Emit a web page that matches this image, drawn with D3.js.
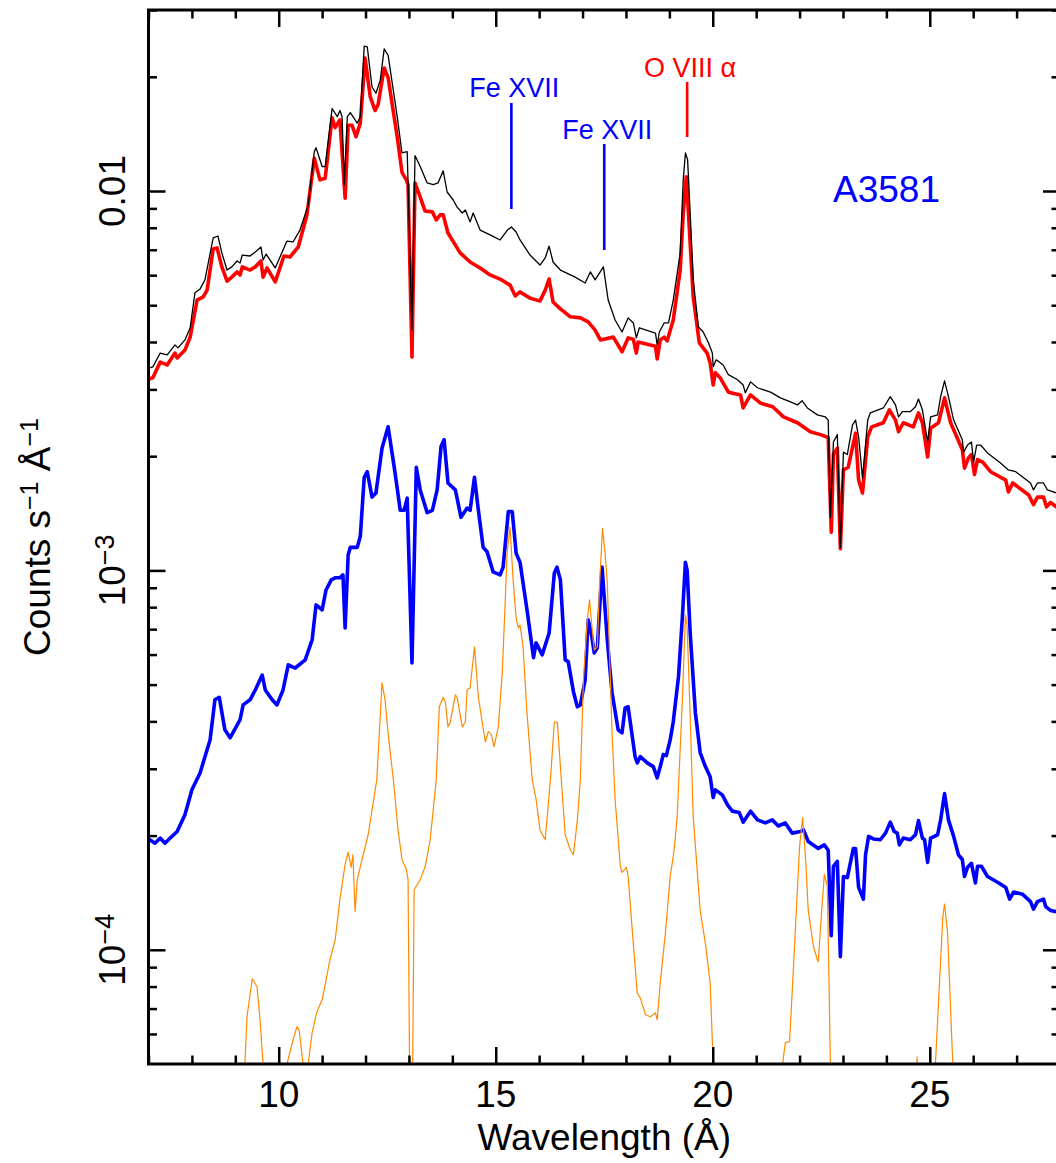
<!DOCTYPE html>
<html>
<head>
<meta charset="utf-8">
<script src="https://cdn.jsdelivr.net/npm/d3@7"></script>
<style>
body{margin:0;background:#fff}
svg{display:block}
text{font-family:"Liberation Sans",Arial,Helvetica,sans-serif}
</style>
</head>
<body>
<svg id="chart" width="1056" height="1163"></svg>
<script>
// wavelength (A), counts s^-1 A^-1
const totalModel=[[7.0,3.42e-3],[7.03,3.42e-3],[7.10,3.44e-3],[7.27,3.74e-3],[7.43,3.70e-3],[7.61,3.93e-3],[7.68,3.86e-3],[7.84,4.05e-3],[7.96,4.36e-3],[8.07,5.39e-3],[8.19,5.52e-3],[8.30,5.83e-3],[8.49,7.52e-3],[8.60,7.61e-3],[8.69,6.87e-3],[8.81,6.19e-3],[8.92,6.31e-3],[9.04,6.54e-3],[9.11,6.46e-3],[9.16,6.78e-3],[9.34,6.74e-3],[9.46,6.91e-3],[9.59,7.12e-3],[9.64,6.58e-3],[9.71,6.82e-3],[9.92,6.27e-3],[10.19,7.38e-3],[10.33,7.34e-3],[10.49,7.89e-3],[10.68,9.19e-3],[10.82,1.27e-2],[10.86,1.30e-2],[11.00,1.16e-2],[11.07,1.16e-2],[11.23,1.65e-2],[11.35,1.57e-2],[11.41,1.63e-2],[11.46,1.57e-2],[11.51,1.04e-2],[11.58,1.57e-2],[11.65,1.61e-2],[11.81,1.51e-2],[11.88,1.57e-2],[11.97,2.41e-2],[12.04,2.40e-2],[12.15,1.88e-2],[12.24,1.81e-2],[12.34,1.96e-2],[12.43,2.37e-2],[12.52,2.28e-2],[12.73,1.57e-2],[12.84,1.26e-2],[12.96,1.27e-2],[12.98,1.05e-2],[13.07,4.30e-3],[13.14,1.24e-2],[13.26,1.16e-2],[13.42,1.05e-2],[13.56,1.04e-2],[13.67,1.05e-2],[13.79,1.13e-2],[13.88,9.94e-3],[14.02,9.47e-3],[14.11,9.07e-3],[14.23,8.75e-3],[14.30,8.91e-3],[14.41,8.29e-3],[14.48,8.75e-3],[14.64,7.89e-3],[14.87,7.66e-3],[15.10,7.43e-3],[15.27,7.89e-3],[15.36,8.04e-3],[15.47,7.80e-3],[15.56,7.43e-3],[15.79,6.78e-3],[16.02,6.38e-3],[16.14,6.66e-3],[16.23,7.16e-3],[16.32,6.50e-3],[16.49,6.19e-3],[16.83,5.93e-3],[17.06,5.72e-3],[17.18,6.12e-3],[17.29,5.83e-3],[17.48,6.31e-3],[17.59,5.16e-3],[17.75,4.57e-3],[17.91,4.25e-3],[18.05,4.63e-3],[18.17,4.49e-3],[18.24,4.10e-3],[18.31,4.36e-3],[18.68,4.22e-3],[18.72,3.93e-3],[18.77,4.25e-3],[18.88,4.49e-3],[18.98,4.49e-3],[19.09,5.16e-3],[19.25,6.87e-3],[19.32,1.07e-2],[19.37,1.26e-2],[19.42,1.21e-2],[19.48,8.75e-3],[19.55,5.83e-3],[19.67,4.38e-3],[19.78,4.25e-3],[19.90,3.98e-3],[19.99,3.74e-3],[20.01,3.44e-3],[20.08,3.59e-3],[20.24,3.48e-3],[20.36,3.28e-3],[20.57,3.18e-3],[20.70,3.08e-3],[20.75,2.94e-3],[20.87,3.14e-3],[21.03,3.03e-3],[21.33,2.95e-3],[21.56,2.85e-3],[21.79,2.78e-3],[21.95,2.73e-3],[22.06,2.80e-3],[22.18,2.68e-3],[22.41,2.57e-3],[22.59,2.54e-3],[22.66,2.49e-3],[22.71,1.38e-3],[22.78,2.18e-3],[22.87,2.28e-3],[22.94,1.15e-3],[23.01,2.05e-3],[23.10,2.02e-3],[23.22,2.42e-3],[23.29,2.49e-3],[23.36,2.25e-3],[23.45,1.75e-3],[23.57,2.49e-3],[23.63,2.60e-3],[23.93,2.68e-3],[24.09,2.87e-3],[24.21,2.73e-3],[24.28,2.54e-3],[24.37,2.62e-3],[24.55,2.62e-3],[24.67,2.70e-3],[24.74,2.83e-3],[24.83,2.65e-3],[24.95,2.18e-3],[25.02,2.54e-3],[25.18,2.57e-3],[25.25,2.87e-3],[25.34,3.16e-3],[25.43,2.87e-3],[25.55,2.49e-3],[25.75,2.21e-3],[25.78,2.05e-3],[25.87,2.14e-3],[25.96,2.18e-3],[26.01,1.93e-3],[26.08,2.14e-3],[26.17,2.14e-3],[26.33,2.04e-3],[26.63,1.92e-3],[26.81,1.84e-3],[26.98,1.82e-3],[27.32,1.70e-3],[27.39,1.63e-3],[27.48,1.70e-3],[27.62,1.70e-3],[27.71,1.63e-3],[27.92,1.60e-3],[28.0,1.60e-3]]

const redModel=[[7.0,3.20e-3],[7.03,3.20e-3],[7.10,3.22e-3],[7.27,3.54e-3],[7.43,3.48e-3],[7.61,3.74e-3],[7.66,3.63e-3],[7.84,3.81e-3],[7.96,4.12e-3],[8.12,5.16e-3],[8.26,5.26e-3],[8.35,5.48e-3],[8.49,7.03e-3],[8.58,7.08e-3],[8.69,6.31e-3],[8.81,5.79e-3],[8.92,5.93e-3],[9.04,6.12e-3],[9.11,6.01e-3],[9.16,6.31e-3],[9.34,6.19e-3],[9.46,6.31e-3],[9.59,6.54e-3],[9.64,5.93e-3],[9.73,6.27e-3],[9.92,5.76e-3],[10.12,6.74e-3],[10.26,6.70e-3],[10.45,7.12e-3],[10.65,8.65e-3],[10.82,1.22e-2],[10.95,1.07e-2],[11.07,1.08e-2],[11.23,1.56e-2],[11.30,1.47e-2],[11.41,1.54e-2],[11.53,9.58e-3],[11.60,1.49e-2],[11.69,1.49e-2],[11.78,1.39e-2],[11.88,1.51e-2],[11.99,2.24e-2],[12.11,1.77e-2],[12.22,1.63e-2],[12.29,1.69e-2],[12.43,2.11e-2],[12.52,1.99e-2],[12.73,1.39e-2],[12.84,1.12e-2],[12.94,1.07e-2],[12.98,1.04e-2],[13.07,3.65e-3],[13.14,1.05e-2],[13.26,9.64e-3],[13.37,8.86e-3],[13.54,8.81e-3],[13.63,8.39e-3],[13.72,8.65e-3],[13.79,8.65e-3],[13.90,7.75e-3],[14.18,6.87e-3],[14.41,6.50e-3],[14.64,6.27e-3],[14.87,6.01e-3],[15.10,5.86e-3],[15.33,5.65e-3],[15.45,5.29e-3],[15.56,5.42e-3],[15.79,5.22e-3],[16.02,5.13e-3],[16.14,5.48e-3],[16.23,5.86e-3],[16.32,5.10e-3],[16.49,4.89e-3],[16.72,4.66e-3],[16.95,4.63e-3],[17.13,4.52e-3],[17.29,4.30e-3],[17.41,4.05e-3],[17.71,4.12e-3],[17.91,3.77e-3],[18.05,4.10e-3],[18.17,4.07e-3],[18.24,3.74e-3],[18.28,4.00e-3],[18.68,3.90e-3],[18.72,3.61e-3],[18.79,4.05e-3],[18.88,4.12e-3],[18.95,4.03e-3],[19.09,4.57e-3],[19.25,6.19e-3],[19.32,8.75e-3],[19.39,1.09e-2],[19.44,8.75e-3],[19.55,5.26e-3],[19.69,3.98e-3],[19.87,3.74e-3],[19.94,3.52e-3],[20.01,3.08e-3],[20.06,3.32e-3],[20.17,3.22e-3],[20.36,2.95e-3],[20.64,2.90e-3],[20.70,2.68e-3],[20.87,2.90e-3],[21.10,2.76e-3],[21.38,2.70e-3],[21.63,2.54e-3],[21.95,2.45e-3],[22.25,2.32e-3],[22.48,2.28e-3],[22.66,2.24e-3],[22.73,1.26e-3],[22.78,2.02e-3],[22.87,2.10e-3],[22.94,1.14e-3],[23.01,1.84e-3],[23.12,1.87e-3],[23.29,2.30e-3],[23.36,1.73e-3],[23.45,1.60e-3],[23.57,2.25e-3],[23.66,2.39e-3],[23.93,2.45e-3],[24.07,2.65e-3],[24.21,2.49e-3],[24.28,2.32e-3],[24.39,2.45e-3],[24.62,2.39e-3],[24.74,2.60e-3],[24.83,2.45e-3],[24.95,1.99e-3],[25.02,2.37e-3],[25.20,2.45e-3],[25.34,2.85e-3],[25.48,2.45e-3],[25.75,2.08e-3],[25.80,1.86e-3],[25.89,1.98e-3],[25.96,2.02e-3],[26.03,1.79e-3],[26.10,1.96e-3],[26.22,1.93e-3],[26.40,1.82e-3],[26.75,1.73e-3],[26.81,1.61e-3],[26.91,1.70e-3],[27.28,1.58e-3],[27.39,1.49e-3],[27.48,1.56e-3],[27.62,1.56e-3],[27.69,1.47e-3],[27.78,1.51e-3],[27.92,1.47e-3],[28.0,1.47e-3]]

const blueModel=[[7.0,1.95e-4],[7.03,1.95e-4],[7.15,1.91e-4],[7.27,1.97e-4],[7.38,1.91e-4],[7.50,1.97e-4],[7.66,2.05e-4],[7.84,2.27e-4],[8.00,2.64e-4],[8.19,2.93e-4],[8.42,3.58e-4],[8.53,4.56e-4],[8.63,4.63e-4],[8.76,3.80e-4],[8.88,3.62e-4],[9.11,4.04e-4],[9.18,4.42e-4],[9.34,4.56e-4],[9.46,4.84e-4],[9.62,5.30e-4],[9.69,4.84e-4],[9.85,4.56e-4],[9.96,4.42e-4],[10.10,4.84e-4],[10.22,5.64e-4],[10.38,5.53e-4],[10.61,5.81e-4],[10.77,6.56e-4],[10.86,8.11e-4],[11.00,7.87e-4],[11.09,8.88e-4],[11.21,9.44e-4],[11.30,9.56e-4],[11.41,9.56e-4],[11.48,9.73e-4],[11.53,7.05e-4],[11.60,1.10e-3],[11.65,1.15e-3],[11.81,1.15e-3],[11.88,1.23e-3],[11.97,1.76e-3],[12.04,1.82e-3],[12.15,1.56e-3],[12.24,1.60e-3],[12.38,2.10e-3],[12.52,2.39e-3],[12.68,1.81e-3],[12.80,1.44e-3],[12.89,1.44e-3],[12.96,1.55e-3],[13.07,5.70e-4],[13.17,1.87e-3],[13.26,1.63e-3],[13.42,1.42e-3],[13.54,1.44e-3],[13.65,1.63e-3],[13.74,2.12e-3],[13.81,2.21e-3],[13.90,1.70e-3],[14.07,1.63e-3],[14.20,1.38e-3],[14.34,1.46e-3],[14.41,1.44e-3],[14.51,1.76e-3],[14.60,1.44e-3],[14.71,1.15e-3],[14.80,1.12e-3],[14.94,9.91e-4],[15.10,9.73e-4],[15.17,1.02e-3],[15.29,1.43e-3],[15.38,1.43e-3],[15.47,1.11e-3],[15.56,1.05e-3],[15.73,7.73e-4],[15.87,5.89e-4],[15.93,6.44e-4],[16.07,5.99e-4],[16.23,6.84e-4],[16.35,9.85e-4],[16.41,1.02e-3],[16.49,9.44e-4],[16.60,5.81e-4],[16.67,5.75e-4],[16.79,4.79e-4],[16.88,4.37e-4],[16.95,4.42e-4],[17.06,5.15e-4],[17.13,7.41e-4],[17.20,6.84e-4],[17.27,6.06e-4],[17.34,6.25e-4],[17.45,1.02e-3],[17.57,6.56e-4],[17.68,4.76e-4],[17.82,3.80e-4],[17.91,3.73e-4],[17.98,4.34e-4],[18.05,4.37e-4],[18.21,3.23e-4],[18.26,3.11e-4],[18.33,3.23e-4],[18.49,3.11e-4],[18.63,3.04e-4],[18.72,2.84e-4],[18.79,3.04e-4],[18.86,3.27e-4],[18.93,3.25e-4],[19.02,3.58e-4],[19.09,3.99e-4],[19.21,5.24e-4],[19.30,7.54e-4],[19.37,1.05e-3],[19.41,1.00e-3],[19.48,6.84e-4],[19.60,4.21e-4],[19.71,3.31e-4],[19.83,3.04e-4],[19.94,2.86e-4],[20.01,2.52e-4],[20.06,2.64e-4],[20.22,2.56e-4],[20.34,2.41e-4],[20.45,2.32e-4],[20.61,2.30e-4],[20.70,2.17e-4],[20.87,2.32e-4],[21.03,2.20e-4],[21.21,2.16e-4],[21.37,2.20e-4],[21.51,2.12e-4],[21.67,2.16e-4],[21.83,2.03e-4],[22.02,2.05e-4],[22.09,2.07e-4],[22.20,1.93e-4],[22.43,1.85e-4],[22.57,1.89e-4],[22.66,1.83e-4],[22.73,1.09e-4],[22.78,1.66e-4],[22.87,1.71e-4],[22.94,9.59e-5],[23.01,1.56e-4],[23.10,1.55e-4],[23.24,1.85e-4],[23.29,1.85e-4],[23.36,1.46e-4],[23.47,1.36e-4],[23.52,1.78e-4],[23.59,1.99e-4],[23.70,1.96e-4],[23.86,1.95e-4],[23.98,2.03e-4],[24.09,2.17e-4],[24.18,2.05e-4],[24.25,2.03e-4],[24.30,1.89e-4],[24.39,1.97e-4],[24.55,1.95e-4],[24.67,2.01e-4],[24.74,2.19e-4],[24.83,1.97e-4],[24.88,1.95e-4],[24.95,1.70e-4],[25.02,1.97e-4],[25.18,2.01e-4],[25.25,2.20e-4],[25.34,2.58e-4],[25.43,2.20e-4],[25.55,1.99e-4],[25.66,1.78e-4],[25.75,1.73e-4],[25.80,1.56e-4],[25.87,1.65e-4],[25.96,1.69e-4],[26.05,1.50e-4],[26.10,1.66e-4],[26.19,1.66e-4],[26.33,1.56e-4],[26.59,1.50e-4],[26.75,1.46e-4],[26.84,1.36e-4],[26.93,1.42e-4],[27.14,1.40e-4],[27.32,1.34e-4],[27.39,1.28e-4],[27.48,1.34e-4],[27.62,1.36e-4],[27.67,1.30e-4],[27.78,1.27e-4],[27.92,1.26e-4],[28.0,1.26e-4]]

const orangeModel=[[7.0,3e-5],[9.15,3e-5],[9.22,5.0e-5],[9.27,6.66e-5],[9.39,8.39e-5],[9.50,7.99e-5],[9.57,6.54e-5],[9.64,5.0e-5],[9.70,3e-5],[10.12,3e-5],[10.19,5.0e-5],[10.33,5.79e-5],[10.42,6.27e-5],[10.47,6.15e-5],[10.56,5.0e-5],[10.62,4.0e-5],[10.68,5.0e-5],[10.77,6.05e-5],[10.88,6.87e-5],[11.00,7.38e-5],[11.07,8.09e-5],[11.18,9.41e-5],[11.30,1.06e-4],[11.41,1.36e-4],[11.53,1.68e-4],[11.60,1.81e-4],[11.67,1.65e-4],[11.71,1.78e-4],[11.76,1.26e-4],[11.81,1.53e-4],[11.92,1.73e-4],[12.06,2.01e-4],[12.17,2.41e-4],[12.26,2.81e-4],[12.38,5.05e-4],[12.45,4.56e-4],[12.52,3.73e-4],[12.64,2.81e-4],[12.75,2.07e-4],[12.84,1.73e-4],[12.94,1.63e-4],[12.98,1.53e-4],[13.03,3e-5],[13.07,3e-5],[13.12,1.44e-4],[13.26,1.53e-4],[13.37,1.65e-4],[13.49,1.95e-4],[13.63,2.81e-4],[13.70,4.37e-4],[13.79,4.63e-4],[13.84,4.49e-4],[13.90,3.87e-4],[13.95,3.97e-4],[14.07,4.70e-4],[14.11,4.63e-4],[14.23,3.87e-4],[14.30,3.99e-4],[14.34,4.84e-4],[14.41,4.90e-4],[14.51,6.29e-4],[14.60,4.63e-4],[14.69,3.97e-4],[14.76,3.53e-4],[14.83,3.76e-4],[14.90,3.69e-4],[14.96,3.43e-4],[15.06,3.87e-4],[15.15,5.37e-4],[15.22,8.36e-4],[15.26,1.11e-3],[15.33,1.30e-3],[15.40,9.44e-4],[15.47,7.49e-4],[15.52,7.05e-4],[15.56,7.18e-4],[15.63,6.29e-4],[15.72,4.21e-4],[15.84,2.81e-4],[15.93,2.49e-4],[16.02,2.07e-4],[16.14,1.95e-4],[16.26,2.81e-4],[16.35,3.99e-4],[16.42,3.97e-4],[16.51,2.81e-4],[16.60,2.01e-4],[16.72,1.83e-4],[16.79,1.78e-4],[16.88,2.20e-4],[16.95,2.81e-4],[17.02,5.15e-4],[17.11,7.41e-4],[17.16,8.36e-4],[17.23,6.84e-4],[17.27,6.17e-4],[17.34,6.29e-4],[17.39,9.05e-4],[17.46,1.29e-3],[17.52,1.11e-3],[17.57,9.27e-4],[17.68,3.73e-4],[17.75,2.49e-4],[17.87,1.66e-4],[17.91,1.60e-4],[18.01,1.65e-4],[18.05,1.56e-4],[18.15,1.11e-4],[18.26,7.70e-5],[18.33,7.47e-5],[18.45,6.74e-5],[18.56,6.66e-5],[18.68,6.82e-5],[18.72,6.54e-5],[18.79,8.19e-5],[18.91,1.11e-4],[19.02,1.56e-4],[19.11,1.83e-4],[19.18,2.24e-4],[19.30,4.56e-4],[19.37,7.63e-4],[19.41,7.10e-4],[19.48,4.11e-4],[19.55,2.24e-4],[19.71,1.27e-4],[19.83,1.04e-4],[19.94,8.19e-5],[20.01,5.0e-5],[20.06,3e-5],[21.56,3e-5],[21.61,5.0e-5],[21.67,5.69e-5],[21.77,5.73e-5],[21.86,9.02e-5],[22.00,1.87e-4],[22.07,2.23e-4],[22.14,1.73e-4],[22.20,1.27e-4],[22.32,1.02e-4],[22.41,9.41e-5],[22.43,9.30e-5],[22.50,1.22e-4],[22.57,1.58e-4],[22.64,1.47e-4],[22.71,5.0e-5],[22.75,3e-5],[24.62,3e-5],[24.71,5.22e-5],[24.76,3e-5],[25.11,3e-5],[25.13,5.0e-5],[25.30,1.22e-4],[25.34,1.32e-4],[25.41,1.11e-4],[25.53,5.0e-5],[25.57,3e-5],[28.0,3e-5]]

const xMajorTicks=[10,15,20,25]
const xMinorTicks=[7,8,9,11,12,13,14,16,17,18,19,21,22,23,24,26,27,28]
const yMajorTicks=[1e-4,1e-3,1e-2]
const yMinorTicks=[6e-5,7e-5,8e-5,9e-5,2e-4,3e-4,4e-4,5e-4,6e-4,7e-4,8e-4,9e-4,2e-3,3e-3,4e-3,5e-3,6e-3,7e-3,8e-3,9e-3,2e-2,3e-2]
const yTickLabels=[{v:1e-2,base:'0.01',sup:''},{v:1e-3,base:'10',sup:'\u22123'},{v:1e-4,base:'10',sup:'\u22124'}]
const lineLabels=[{wave:15.36,text:'Fe XVII',color:'#0000ff',textY:97,y1:103,y2:209},
  {wave:17.50,text:'Fe XVII',color:'#0000ff',textY:139,y1:144,y2:250},
  {wave:19.41,text:'O VIII \u03b1',color:'#ff0000',textY:77,y1:82,y2:137}]

const plotLeft=148.5,plotRight=1060,plotTop=10,plotBottom=1064
const svg=d3.select('#chart')

const x=d3.scaleLinear().domain([7,28]).range([plotLeft,plotRight])
const y=d3.scaleLog().domain([5e-5,0.03]).range([plotBottom,plotTop])

svg.append('defs').append('clipPath').attr('id','plotclip')
  .append('rect').attr('x',plotLeft).attr('y',plotTop)
  .attr('width',plotRight-plotLeft).attr('height',plotBottom-plotTop)

const line=d3.line().x(d=>x(d[0])).y(d=>y(d[1]))
const plot=svg.append('g').attr('clip-path','url(#plotclip)')

function drawSeries(data,color,width){
  plot.append('path')
    .datum(data)
    .attr('fill','none')
    .attr('stroke',color)
    .attr('stroke-width',width)
    .attr('stroke-linejoin','round')
    .attr('d',line)
}
drawSeries(blueModel,'#0000ff',3.6)
drawSeries(orangeModel,'#ff8a00',1.2)
drawSeries(redModel,'#ff0000',3.6)
drawSeries(totalModel,'#000000',1.3)

// ticks on all four sides, pointing inward
function addAxis(axisFn,scale,vals,size,transform){
  const g=svg.append('g').attr('transform',transform)
    .call(axisFn(scale).tickValues(vals).tickSizeInner(-size).tickSizeOuter(0).tickFormat(''))
  g.select('.domain').remove()
  g.selectAll('.tick line').attr('stroke','#000').attr('stroke-width',2.5)
}
addAxis(d3.axisBottom,x,xMajorTicks,17,`translate(0,${plotBottom})`)
addAxis(d3.axisBottom,x,xMinorTicks,8.5,`translate(0,${plotBottom})`)
addAxis(d3.axisTop,x,xMajorTicks,17,`translate(0,${plotTop})`)
addAxis(d3.axisTop,x,xMinorTicks,8.5,`translate(0,${plotTop})`)
addAxis(d3.axisLeft,y,yMajorTicks,17,`translate(${plotLeft},0)`)
addAxis(d3.axisLeft,y,yMinorTicks,8.5,`translate(${plotLeft},0)`)
addAxis(d3.axisRight,y,yMajorTicks,17,`translate(${plotRight},0)`)
addAxis(d3.axisRight,y,yMinorTicks,8.5,`translate(${plotRight},0)`)

svg.append('rect').attr('x',plotLeft).attr('y',plotTop)
  .attr('width',plotRight-plotLeft).attr('height',plotBottom-plotTop)
  .attr('fill','none').attr('stroke','#000').attr('stroke-width',3)

// x tick labels
svg.append('g').selectAll('text').data(xMajorTicks).enter().append('text')
  .attr('x',d=>x(d)).attr('y',1107)
  .attr('text-anchor','middle').attr('font-size',37).text(d=>d)

// y tick labels (rotated)
const yl=svg.append('g').selectAll('text').data(yTickLabels).enter().append('text')
  .attr('transform',d=>`translate(125,${y(d.v)}) rotate(-90)`)
  .attr('text-anchor','middle').attr('font-size',37)
yl.append('tspan').text(d=>d.base)
yl.filter(d=>d.sup).append('tspan').attr('dy',-11).attr('font-size',27).text(d=>d.sup)

// axis titles
svg.append('text').attr('x',(plotLeft+plotRight)/2).attr('y',1150)
  .attr('text-anchor','middle').attr('font-size',37).text('Wavelength (\u00c5)')

const yt=svg.append('text').attr('transform',`translate(50,${(plotTop+plotBottom)/2}) rotate(-90)`)
  .attr('text-anchor','middle').attr('font-size',37)
yt.append('tspan').text('Counts s')
yt.append('tspan').attr('dy',-12).attr('font-size',25).text('\u22121')
yt.append('tspan').attr('dy',12).text(' \u00c5')
yt.append('tspan').attr('dy',-12).attr('font-size',25).text('\u22121')

// line identifications
const ll=svg.append('g').selectAll('g').data(lineLabels).enter().append('g')
ll.append('line').attr('x1',d=>x(d.wave)).attr('x2',d=>x(d.wave))
  .attr('y1',d=>d.y1).attr('y2',d=>d.y2)
  .attr('stroke',d=>d.color).attr('stroke-width',2.6)
ll.append('text').attr('x',d=>x(d.wave)+3).attr('y',d=>d.textY)
  .attr('text-anchor','middle').attr('font-size',27).attr('fill',d=>d.color).text(d=>d.text)

svg.append('text').attr('x',833).attr('y',202).attr('font-size',37)
  .attr('fill','#0000ff').text('A3581')
</script>
</body>
</html>
